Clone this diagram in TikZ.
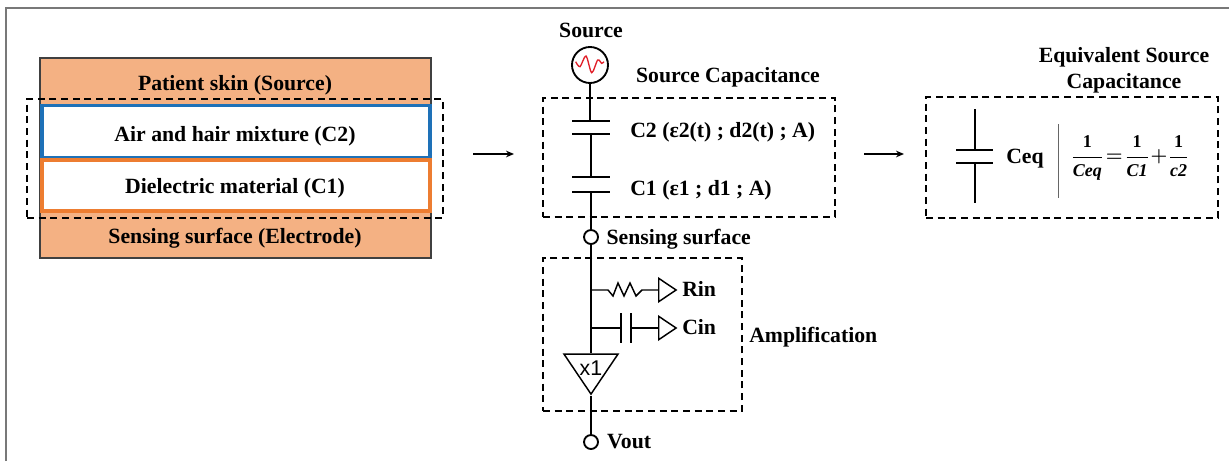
\documentclass[tikz,border=0pt]{standalone}
\usepackage{amsmath,amssymb}
\usepackage{fontspec}
\setmainfont{Liberation Serif}
\setsansfont{Liberation Sans}
\usepackage{xcolor}
\usetikzlibrary{shapes.geometric, arrows.meta, positioning}
\definecolor{skinorange}{RGB}{244,177,131}
\definecolor{layerblue}{RGB}{30,113,184}
\definecolor{layerorange}{RGB}{237,125,49}
\definecolor{wavered}{RGB}{225,30,40}
\definecolor{framegray}{RGB}{120,120,120}
\tikzset{
    layerblock/.style={rectangle, draw=#1, fill=white, line width=2.4pt, minimum width=291pt, inner sep=0pt},
    dashbox/.style={rectangle, draw=black, dashed, dash pattern=on 5.25pt off 3.5pt, line width=1.1pt, inner sep=0pt},
    titletext/.style={font=\fontsize{16.3}{19.5}\selectfont\bfseries, inner sep=0pt, align=center},
    wire/.style={line width=1.5pt},
    flowarrow/.style={-{Stealth[length=6pt, width=5pt]}, line width=1pt},
    plateh/.style={rectangle, fill=black, minimum width=28pt, minimum height=1.5pt, inner sep=0pt},
    platev/.style={rectangle, fill=black, minimum width=1.5pt, minimum height=22.5pt, inner sep=0pt},
    pad/.style={circle, draw=black, fill=white, line width=1.4pt, minimum size=10.5pt, inner sep=0pt},
    refamp/.style={isosceles triangle, isosceles triangle stretches, draw=black, fill=white, line width=1.1pt, minimum width=17.5pt, minimum height=13pt, inner sep=0pt}
}

\begin{document}
\begin{tikzpicture}[x=0.75pt, y=-0.75pt]
\useasboundingbox (0,0) rectangle (1229,461);

\draw[framegray, line width=1.2pt] (6,461) |- (1229,8);

% layer stack
\node[rectangle, draw=black!75, fill=skinorange, line width=0.9pt, minimum width=293.25pt, minimum height=150pt, inner sep=0pt] (skin) at (235.5,158) {};
\node[layerblock=layerblue, minimum height=39.4pt] (airlayer) at (236,131.75) {};
\node[layerblock=layerorange, minimum height=38.25pt] (dielectric) at (236,185.5) {};
\node[dashbox, minimum width=312pt, minimum height=89.25pt] (stackbox) at (235,158.5) {};
\node[titletext] (skintext) at (235,85) {Patient skin (Source)};
\node[titletext] (airtext) at (235,136) {Air and hair mixture (C2)};
\node[titletext] (dielectrictext) at (235,188) {Dielectric material (C1)};
\node[titletext] (electrodetext) at (235,238) {Sensing surface (Electrode)};

\coordinate (arrowa) at (473,154);
\coordinate (arrowb) at (514,154);
\coordinate (arrowc) at (864,154);
\coordinate (arrowd) at (904,154);
\draw[flowarrow] (arrowa) -- (arrowb);
\draw[flowarrow] (arrowc) -- (arrowd);

% source capacitance
\node[circle, draw=black, fill=white, line width=1.4pt, minimum size=27pt, inner sep=0pt] (source) at (590,65) {};
\node[titletext] (sourcetext) at (591,30) {Source};
\draw[wavered, line width=1pt] plot[smooth, tension=0.5] coordinates {(575.7,61.7) (580,66.7) (586,56) (591.7,72.7) (597.7,60) (601.7,63.3) (604,61.7)};
\node[titletext] (captitle) at (728,77) {Source Capacitance};
\node[dashbox, minimum width=219pt, minimum height=89.25pt] (capbox) at (689,157.5) {};
\node[plateh] (c2top) at (591,121) {};
\node[plateh] (c2bot) at (591,134) {};
\node[plateh] (c1top) at (591,177) {};
\node[plateh] (c1bot) at (591,192) {};
\node[pad] (sensing) at (591,237) {};
\node[titletext, anchor=west] (c2text) at (630,132) {C2 (ε2(t) ; d2(t) ; A)};
\node[titletext, anchor=west] (c1text) at (630,190) {C1 (ε1 ; d1 ; A)};
\node[titletext, right=5.5pt of sensing, yshift=-2pt] (sensingtext) {Sensing surface};
\draw[wire] (source) -- (source |- c2top);
\draw[wire] (c2bot) -- (c1top);
\draw[wire] (c1bot) -- (sensing);

% amplification
\node[dashbox, minimum width=149.25pt, minimum height=114.75pt] (ampbox) at (642.5,334.5) {};
\node[titletext, anchor=west] (amptext) at (749,337) {Amplification};
\node[isosceles triangle, isosceles triangle stretches, shape border rotate=-90, draw=black, fill=white, line width=1.1pt, minimum width=40.5pt, minimum height=30pt, inner sep=0pt, anchor=apex] (buffer) at (591,396) {};
\node[font=\sffamily\fontsize{16}{19}\selectfont, inner sep=0pt] (gain) at (591,368) {x1};
\node[pad] (vout) at (591,442) {};
\node[titletext, right=6pt of vout] (vouttext) {Vout};
\draw[wire] (sensing) -- (buffer.lower side);
\draw[wire] (buffer.apex) -- (vout);

\coordinate (rinjoin) at (591,290);
\coordinate (cinjoin) at (591,328);
\node[refamp, anchor=lower side] (rinamp) at (658,290) {};
\node[refamp, anchor=lower side] (cinamp) at (658,328) {};
\node[titletext, right=3pt of rinamp, yshift=1pt] (rintext) {Rin};
\node[titletext, right=3pt of cinamp, yshift=1pt] (cintext) {Cin};
\draw[line width=1.1pt] (rinjoin) -- (608,290) -- (613,296) -- (618,283) -- (624,296) -- (630,283) -- (636,296) -- (642,290) -- (rinamp.lower side);
\node[platev] (cinleft) at (621,328) {};
\node[platev] (cinright) at (631,328) {};
\draw[line width=1.1pt] (cinjoin) -- (cinleft.center);
\draw[line width=1.1pt] (cinright.center) -- (cinamp.lower side);

% equivalent capacitance
\node[titletext] (eqtitle) at (1124,70) {Equivalent Source\\Capacitance};
\node[dashbox, minimum width=219pt, minimum height=90.75pt] (eqbox) at (1072,157.5) {};
\coordinate (ceqtop) at (974.5,109);
\coordinate (ceqbottom) at (974.5,203);
\node[plateh] (ceqa) at (974.5,150) {};
\node[plateh] (ceqb) at (974.5,163) {};
\draw[wire] (ceqtop) -- (ceqa);
\draw[wire] (ceqb) -- (ceqbottom);
\node[titletext, anchor=west] (ceqtext) at (1006,159) {Ceq};
\coordinate (septop) at (1058,124);
\coordinate (sepbottom) at (1058,198);
\draw[black!60, line width=0.7pt] (septop) -- (sepbottom);
\node[inner sep=0pt, font=\fontsize{13.5}{16}\selectfont] (formula) at (1130,158) {{\boldmath$\dfrac{\textbf{1}}{\textbf{\textit{Ceq}}}\!=\!\dfrac{\textbf{1}}{\textbf{\textit{C1}}}\!+\!\dfrac{\textbf{1}}{\textbf{\textit{c2}}}$}};

\end{tikzpicture}
\end{document}
